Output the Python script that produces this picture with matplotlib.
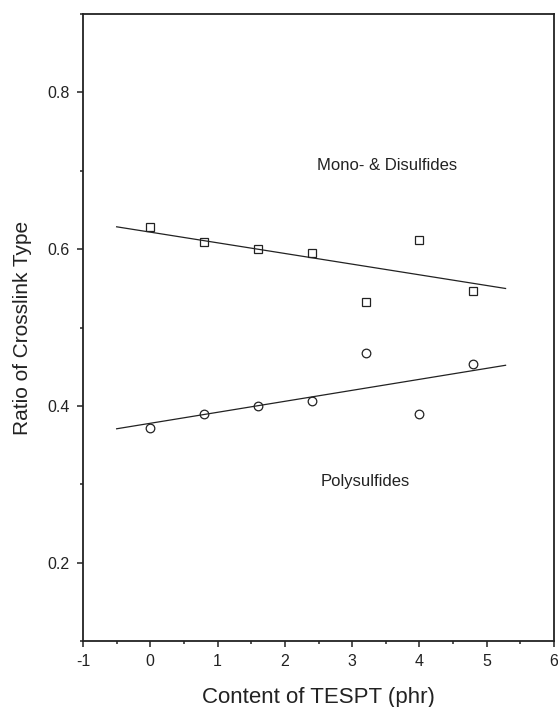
import numpy as np
import matplotlib
matplotlib.use("Agg")
import matplotlib.pyplot as plt
from matplotlib.ticker import MultipleLocator

plt.rcParams['font.family'] = ['Liberation Sans', 'DejaVu Sans']
plt.rcParams['axes.unicode_minus'] = False

# TESPT content (phr)
tespt = [0.0, 0.8, 1.6, 2.4, 3.2, 4.0, 4.8]
# ratio of crosslink type
mono_di = [0.628, 0.609, 0.600, 0.595, 0.532, 0.612, 0.547]
poly = [0.372, 0.390, 0.400, 0.406, 0.468, 0.390, 0.454]
fit_range = [-0.5, 5.28]

fig = plt.figure(figsize=(5.58, 7.07), dpi=100)
ax = fig.add_axes([83/558, 1 - 641/707, (554-83)/558, (641-14)/707])

ax.plot(tespt, mono_di, 's', mfc='white', mec='#222222', ms=5.6, mew=0.9)
ax.plot(tespt, poly, 'o', mfc='white', mec='#222222', ms=6.2, mew=0.9)

# linear fits
xs = np.array(fit_range)
for ys in (mono_di, poly):
    k, b = np.polyfit(tespt, ys, 1)
    ax.plot(xs, k * xs + b, '-', color='#222222', lw=0.9)

ax.text(3.52, 0.707, 'Mono- & Disulfides', ha='center', va='center', fontsize=12, color='#222222')
ax.text(3.19, 0.303, 'Polysulfides', ha='center', va='center', fontsize=12, color='#222222')

ax.set_xlim(-1, 6)
ax.set_ylim(0.1, 0.9)
ax.xaxis.set_major_locator(MultipleLocator(1))
ax.xaxis.set_minor_locator(MultipleLocator(0.5))
ax.yaxis.set_minor_locator(MultipleLocator(0.1))
ax.set_yticks([0.2, 0.4, 0.6, 0.8])
ax.set_yticklabels(['0.2', '0.4', '0.6', '0.8'])

ax.tick_params(which='major', direction='out', length=4.5, width=1.1, labelsize=11.5, colors='#222222', pad=5)
ax.tick_params(which='minor', direction='out', length=2.5, width=1.1, colors='#222222')
for s in ax.spines.values():
    s.set_linewidth(1.3)
    s.set_color('#222222')

ax.set_xlabel('Content of TESPT (phr)', fontsize=16, color='#222222', labelpad=13)
ax.set_ylabel('Ratio of Crosslink Type', fontsize=15, color='#222222', labelpad=11)

fig.savefig('out.png', dpi=100)
